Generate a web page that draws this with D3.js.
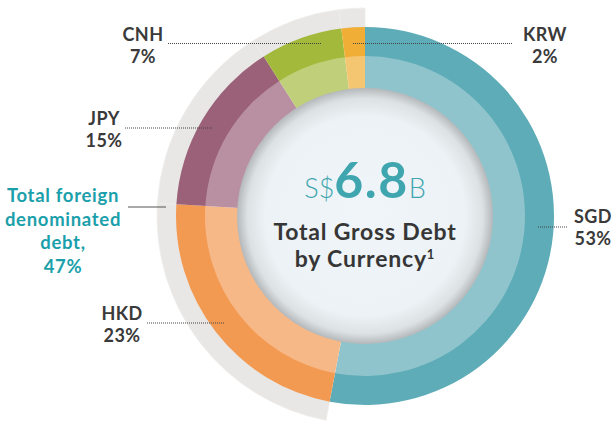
<!DOCTYPE html>
<html>
<head>
<meta charset="utf-8">
<script src="https://cdn.jsdelivr.net/npm/d3@7"></script>
<style>
  body { margin: 0; background: #fff; }
  svg text { font-family: Lato, "Open Sans", sans-serif; }
</style>
</head>
<body>
<div id="chart"></div>
<script>
// data
var currencies = ['SGD', 'HKD', 'JPY', 'CNH', 'KRW'];
var shares = [53, 23, 15, 7, 2];
var foreign = ['HKD', 'JPY', 'CNH', 'KRW'];
var foreignShare = 47;
var totalDebt = 6.8;

var darkColors = ['#5eacb8', '#f39a52', '#9a6179', '#a3b93c', '#f0ae36'];
var lightColors = ['#8fc4cc', '#f6b887', '#b98fa2', '#c0cf7a', '#f4c672'];

// set up svg
var svgWidth = 614;
var svgHeight = 421;
var cx = 365, cy = 216;

var svg = d3.select('#chart')
    .append('svg')
    .attr('width', svgWidth)
    .attr('height', svgHeight);

var defs = svg.append('defs');
var grad = defs.append('radialGradient').attr('id', 'centerGrad');
grad.append('stop').attr('offset', '0%').attr('stop-color', '#eff5f8');
grad.append('stop').attr('offset', '78%').attr('stop-color', '#ecf2f5');
grad.append('stop').attr('offset', '92%').attr('stop-color', '#dce1e4');
grad.append('stop').attr('offset', '100%').attr('stop-color', '#b4b8ba');

var g = svg.append('g')
    .attr('transform', `translate(${cx},${cy})`);

var data = currencies.map(function(c, i) {
    return { name: c, value: shares[i], dark: darkColors[i], light: lightColors[i] };
});

var pie = d3.pie()
    .sort(null)
    .value(d => d.value);
var arcs = pie(data);

var greyArc = d3.arc().innerRadius(188).outerRadius(208);
var outerArc = d3.arc().innerRadius(159).outerRadius(189);
var innerArc = d3.arc().innerRadius(126).outerRadius(160);

// grey band for foreign debt
var foreignArcs = arcs.filter(a => foreign.indexOf(a.data.name) >= 0);
g.selectAll('.grey')
    .data(foreignArcs)
    .enter()
    .append('path')
    .attr('class', 'grey')
    .attr('d', greyArc)
    .attr('fill', '#e8e7e5')
    .attr('stroke', '#efeeec')
    .attr('stroke-width', 0.8);

g.selectAll('.outer')
    .data(arcs)
    .enter()
    .append('path')
    .attr('class', 'outer')
    .attr('d', outerArc)
    .attr('fill', d => d.data.dark);

g.selectAll('.inner')
    .data(arcs)
    .enter()
    .append('path')
    .attr('class', 'inner')
    .attr('d', innerArc)
    .attr('fill', d => d.data.light);

g.append('circle')
    .attr('r', 128)
    .attr('fill', 'url(#centerGrad)');

// centre text
var big = g.append('text')
    .attr('y', -18)
    .attr('text-anchor', 'middle')
    .attr('fill', '#3fa6b0');
big.append('tspan').attr('font-size', 27).attr('font-weight', 300).text('S$');
big.append('tspan').attr('font-size', 50).attr('font-weight', 700).attr('letter-spacing', 1.5).text(totalDebt.toFixed(1));
big.append('tspan').attr('font-size', 27).attr('font-weight', 300).text('B');

g.append('text')
    .attr('y', 24)
    .attr('text-anchor', 'middle')
    .attr('font-size', 23)
    .attr('font-weight', 700)
    .attr('letter-spacing', 0.8)
    .attr('fill', '#363636')
    .text('Total Gross Debt');

var sub = g.append('text')
    .attr('y', 51)
    .attr('text-anchor', 'middle')
    .attr('font-size', 23)
    .attr('font-weight', 700)
    .attr('letter-spacing', 0.8)
    .attr('fill', '#363636');
sub.append('tspan').text('by Currency');
sub.append('tspan').attr('font-size', 13).attr('dy', -8).text('1');

// labels and leader lines
var labelPos = {
    SGD: { x: 593, y: 223, line: [538, 567, 227] },
    HKD: { x: 122, y: 320, line: [147, 224, 323] },
    JPY: { x: 104, y: 125, line: [125, 213, 128] },
    CNH: { x: 143, y: 41, line: [168, 321, 43.5] },
    KRW: { x: 545, y: 41, line: [353, 513, 43.5] }
};

arcs.forEach(function(a) {
    var p = labelPos[a.data.name];
    svg.append('line')
        .attr('x1', p.line[0]).attr('x2', p.line[1])
        .attr('y1', p.line[2]).attr('y2', p.line[2])
        .attr('stroke', '#444')
        .attr('stroke-width', 1)
        .attr('stroke-dasharray', '1,1');
    var t = svg.append('text')
        .attr('text-anchor', 'middle')
        .attr('font-size', 18)
        .attr('font-weight', 700)
        .attr('letter-spacing', 0.4)
        .attr('fill', '#3a3a3a');
    t.append('tspan').attr('x', p.x).attr('y', p.y).text(a.data.name);
    t.append('tspan').attr('x', p.x).attr('y', p.y + 22).text(a.data.value + '%');
});

// foreign total label
svg.append('line')
    .attr('x1', 128).attr('x2', 166)
    .attr('y1', 207).attr('y2', 207)
    .attr('stroke', '#555')
    .attr('stroke-width', 1);

var ft = svg.append('text')
    .attr('text-anchor', 'middle')
    .attr('font-size', 18.5)
    .attr('font-weight', 700)
    .attr('letter-spacing', 0.7)
    .attr('fill', '#1ba0ab');
['Total foreign', 'denominated', 'debt,', foreignShare + '%'].forEach(function(s, i) {
    ft.append('tspan').attr('x', 63).attr('y', 202 + i * 23.5).text(s);
});
</script>
</body>
</html>
